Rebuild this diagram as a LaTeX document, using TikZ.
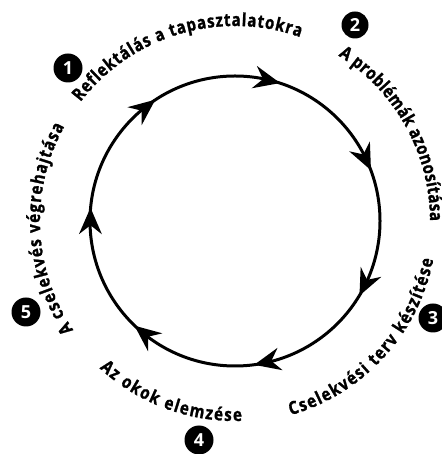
\documentclass[tikz,border=0pt]{standalone}
\usepackage{fontspec}
\setmainfont{Open Sans}
\newfontfamily\lblfam{Open Sans}[FakeStretch=0.84,BoldFeatures={FakeBold=1.2}]
\usetikzlibrary{decorations.text}
\newcommand\lblfont{\lblfam\fontsize{18}{20}\selectfont\bfseries}
\begin{document}
\begin{tikzpicture}[x=1pt,y=1pt,
  numdot/.style={circle,fill=black,text=white,inner sep=0pt,minimum size=29pt,
    font=\fontsize{18}{18}\selectfont\bfseries},
  cyc/.style={line width=3pt},
  arrowhead/.style={fill=black},
  arclabel/.style={decorate,decoration={text along path,text format delimiters={|}{|},
    text align={fit to path},text={|\lblfont|#1 }}}
]
\useasboundingbox (0,0) rectangle (441,454);
\coordinate (C) at (235,233);
% cycle
\draw[cyc] (C) circle[radius=145pt];
% arrowheads (tip on the circle, pointing clockwise)
\foreach \a in {72.5,21.07,-30.36,-81.79,-133.22,-184.65,-236.08}
  \fill[arrowhead,shift={(C)},rotate=\a,xshift=145pt,rotate=-85.5]
    (1.5,0) -- (-25,11.5) -- (-16,0) -- (-25,-11.5) -- cycle;
% labels along arcs
\path[arclabel={Reflektálás a tapasztalatokra}]
  (C) ++(142.4:195pt) arc[start angle=142.4,end angle=70.5,radius=195pt];
\path[arclabel={A problémák azonosítása}]
  (C) ++(58:195pt) arc[start angle=58,end angle=0,radius=195pt];
\path[arclabel={Cselekvési terv készítése}]
  (C) ++(-74:202pt) arc[start angle=-74,end angle=-11,radius=202pt];
\path[arclabel={Az okok elemzése}]
  (C) ++(-132.6:200pt) arc[start angle=-132.6,end angle=-88,radius=200pt];
\path[arclabel={A cselekvés végrehajtása}]
  (C) ++(214:195pt) arc[start angle=214,end angle=151,radius=195pt];
% numbers
\node[numdot] (n1) at (68,386) {1};
\node[numdot,minimum size=27pt] (n2) at (355,429) {2};
\node[numdot] (n3) at (433,136) {3};
\node[numdot] (n4) at (199,14) {4};
\node[numdot] (n5) at (26,142) {5};
\end{tikzpicture}
\end{document}
